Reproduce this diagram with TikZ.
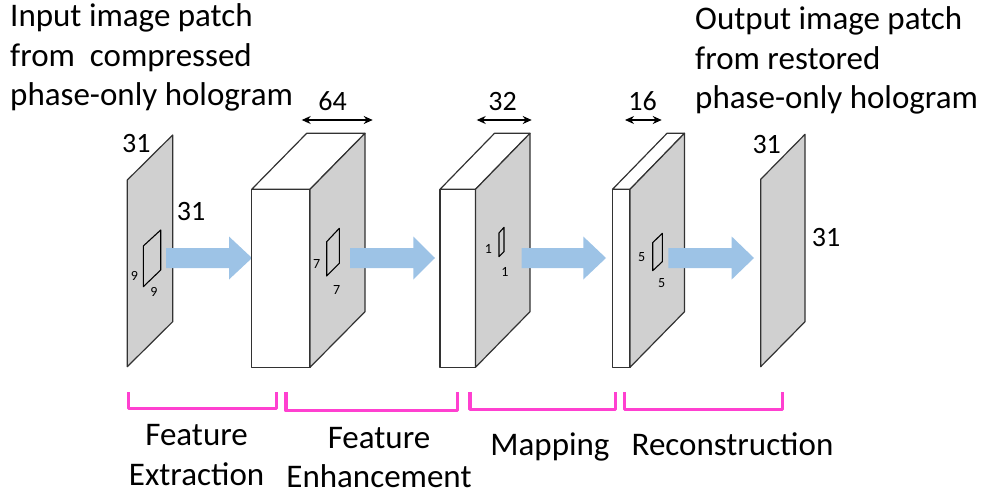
\documentclass[tikz,border=0pt]{standalone}
\usepackage{fontspec}
\setmainfont{Carlito}
\usetikzlibrary{arrows.meta}
\definecolor{pg}{RGB}{208,208,208}
\definecolor{ab}{RGB}{157,195,230}
\definecolor{mg}{RGB}{255,64,208}
\definecolor{ol}{RGB}{50,50,50}
\begin{document}
\begin{tikzpicture}[x=1pt,y=-1pt,
  face/.style={draw=ol, line width=1.2pt, line join=round},
  patch/.style={draw=black, line width=1.1pt, line join=round},
  bigtxt/.style={font=\fontsize{33}{40}\selectfont, inner sep=0, anchor=base west},
  captxt/.style={font=\fontsize{33}{40}\selectfont, inner sep=0, anchor=base},
  lab/.style={font=\fontsize{28}{34}\selectfont, inner sep=0, anchor=base},
  sm/.style={font=\fontsize{14}{17}\selectfont, inner sep=0, anchor=base},
  dimline/.style={line width=1.2pt, {Stealth[length=9pt,width=8pt]}-{Stealth[length=9pt,width=8pt]}},
  brk/.style={draw=mg, line width=3.5pt, line join=round},
  flow/.style={fill=ab}
]
\useasboundingbox (0,0) rectangle (990,497);

% ---- top texts
\node[bigtxt] (in1) at (10,26.7) {Input image patch};
\node[bigtxt] (in2) at (10,66.7) {from\ \ compressed};
\node[bigtxt] (in3) at (10,106) {phase-only hologram};
\node[bigtxt] (out1) at (695,29.3) {Output image patch};
\node[bigtxt] (out2) at (695,69.3) {from restored};
\node[bigtxt] (out3) at (695,109) {phase-only hologram};

% ---- input plane
\draw[face, fill=pg] (127.3,180) -- (172.7,135) -- (172.7,321.7) -- (127.3,366.7) -- cycle;
\draw[patch] (143.3,246) -- (160.7,230) -- (160.7,270) -- (143.3,286.7) -- cycle;
\node[lab] (i31a) at (136.3,152.7) {31};
\node[lab] (i31b) at (191,220.7) {31};
\node[sm] (k9a) at (134.3,280) {9};
\node[sm] (k9b) at (154,296.7) {9};

% arrow 1
\coordinate (a1s) at (166,258);
\fill[flow] (166,248) -- (229,248) -- (229,236.5) -- (252,258) -- (229,279.5) -- (229,268) -- (166,268) -- cycle;

% ---- box 1 (64)
\draw[face, fill=white] (251.7,189.3) rectangle (310,367.3);
\draw[face, fill=white] (251.7,189.3) -- (306.7,133.3) -- (365,133.3) -- (310,189.3) -- cycle;
\draw[face, fill=pg] (310,189.3) -- (365,133.3) -- (365,311.7) -- (310,367.3) -- cycle;
\draw[patch] (326.7,241.7) -- (339.3,228.3) -- (339.3,263.3) -- (326.7,276) -- cycle;
\node[sm] (k7a) at (316.7,268.3) {7};
\node[sm] (k7b) at (336.7,294) {7};
\coordinate (d64l) at (301.7,120);
\coordinate (d64r) at (372.7,120);
\draw[dimline] (d64l) -- (d64r);
\node[lab] (n64) at (332.5,111) {64};

% arrow 2
\fill[flow] (350,248) -- (413.3,248) -- (413.3,236.5) -- (435,258) -- (413.3,279.5) -- (413.3,268) -- (350,268) -- cycle;

% ---- box 2 (32)
\draw[face, fill=white] (440,189.3) rectangle (475.5,367.3);
\draw[face, fill=white] (440,189.3) -- (494.5,133.3) -- (530,133.3) -- (475.5,189.3) -- cycle;
\draw[face, fill=pg] (475.5,189.3) -- (530,133.3) -- (530,311.7) -- (475.5,367.3) -- cycle;
\draw[patch] (499,233) -- (504,227.3) -- (504,251.7) -- (499,256.7) -- cycle;
\node[sm] (k1a) at (488.3,253.3) {1};
\node[sm] (k1b) at (505,276) {1};
\coordinate (d32l) at (476.7,120);
\coordinate (d32r) at (531.7,120);
\draw[dimline] (d32l) -- (d32r);
\node[lab] (n32) at (502.5,111) {32};

% arrow 3
\fill[flow] (521.7,248) -- (583.3,248) -- (583.3,236.5) -- (606,258) -- (583.3,279.5) -- (583.3,268) -- (521.7,268) -- cycle;

% ---- box 3 (16)
\draw[face, fill=white] (612.5,189.3) rectangle (630,367.3);
\draw[face, fill=white] (612.5,189.3) -- (667,133.3) -- (684.5,133.3) -- (630,189.3) -- cycle;
\draw[face, fill=pg] (630,189.3) -- (684.5,133.3) -- (684.5,311.7) -- (630,367.3) -- cycle;
\draw[patch] (652.7,242.7) -- (662.3,233.3) -- (662.3,261.7) -- (652.7,270.7) -- cycle;
\node[sm] (k5a) at (641.7,261) {5};
\node[sm] (k5b) at (661.7,287.7) {5};
\coordinate (d16l) at (625,120);
\coordinate (d16r) at (661.7,120);
\draw[dimline] (d16l) -- (d16r);
\node[lab] (n16) at (642.5,111) {16};

% arrow 4
\fill[flow] (668.3,248) -- (731.7,248) -- (731.7,236.5) -- (754,258) -- (731.7,279.5) -- (731.7,268) -- (668.3,268) -- cycle;

% ---- output plane
\draw[face, fill=pg] (760.7,179.3) -- (805,134.3) -- (805,321.7) -- (760.7,366.7) -- cycle;
\node[lab] (o31a) at (766.7,153.3) {31};
\node[lab] (o31b) at (826,246.7) {31};

% ---- brackets
\draw[brk] (128.3,392) -- (128.3,408.3) -- (276.7,408.3) -- (276.7,392);
\draw[brk] (286,392) -- (286,410.7) -- (457.7,410.7) -- (457.7,392);
\draw[brk] (470,392) -- (470,409.3) -- (615.7,409.3) -- (615.7,392);
\draw[brk] (624.3,392) -- (624.3,409.3) -- (782.7,409.3) -- (782.7,392);

% ---- stage captions
\node[captxt] (fe1) at (196.6,445) {Feature};
\node[captxt] (fe2) at (196.6,485) {Extraction};
\node[captxt] (en1) at (379,448.3) {Feature};
\node[captxt] (en2) at (379,487.3) {Enhancement};
\node[captxt] (mp) at (550,455) {Mapping};
\node[captxt] (rc) at (732.5,455) {Reconstruction};
\end{tikzpicture}
\end{document}
